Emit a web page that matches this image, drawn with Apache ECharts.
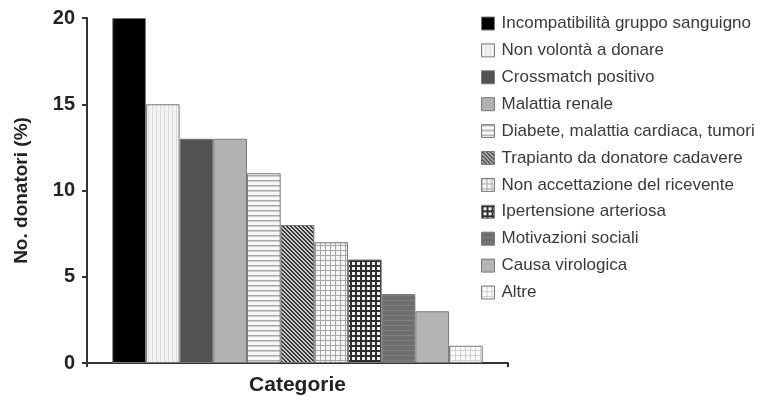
<!DOCTYPE html>
<html>
<head>
<meta charset="utf-8">
<script src="https://cdn.jsdelivr.net/npm/echarts@6/dist/echarts.min.js"></script>
<style>html,body{margin:0;padding:0;background:#fff}#c{width:771px;height:400px}</style>
</head>
<body>
<div id="c"></div>
<script>
const categories = ['Incompatibilità gruppo sanguigno','Non volontà a donare','Crossmatch positivo','Malattia renale','Diabete, malattia cardiaca, tumori','Trapianto da donatore cadavere','Non accettazione del ricevente','Ipertensione arteriosa','Motivazioni sociali','Causa virologica','Altre'];
const values = [20, 15, 13, 13, 11, 8, 7, 6, 4, 3, 1];
const yTicks = [0, 5, 10, 15, 20];

function pat(size, draw){
  const c = document.createElement('canvas');
  c.width = size; c.height = size;
  const g = c.getContext('2d');
  draw(g, size);
  return {image: c, repeat: 'repeat'};
}
function solid(col){ return col; }
const fills = [
  solid('#000000'),
  pat(4, (g,s)=>{ g.fillStyle='#f3f3f3'; g.fillRect(0,0,s,s); g.fillStyle='#dadada'; g.fillRect(0,0,1,s); }),
  solid('#525252'),
  solid('#b2b2b2'),
  pat(5, (g,s)=>{ g.fillStyle='#f8f8f8'; g.fillRect(0,0,s,s); g.fillStyle='#a8a8a8'; g.fillRect(0,0,s,1.5); }),
  pat(4, (g,s)=>{ g.fillStyle='#c8c8c8'; g.fillRect(0,0,s,s); g.fillStyle='#3a3a3a'; for(let i=0;i<s;i++){ g.fillRect(i,i,1,1); g.fillRect((i+1)%s,i,1,1);} }),
  pat(5, (g,s)=>{ g.fillStyle='#f4f4f4'; g.fillRect(0,0,s,s); g.fillStyle='#a6a6a6'; g.fillRect(0,0,s,1); g.fillRect(0,0,1,s); }),
  pat(5, (g,s)=>{ g.fillStyle='#f0f0f0'; g.fillRect(0,0,s,s); g.fillStyle='#2e2e2e'; g.fillRect(0,0,s,2); g.fillRect(0,0,2,s); }),
  pat(5, (g,s)=>{ g.fillStyle='#6e6e6e'; g.fillRect(0,0,s,s); g.fillStyle='#7e7e7e'; g.fillRect(0,0,s,1); }),
  solid('#b4b4b4'),
  pat(5, (g,s)=>{ g.fillStyle='#fafafa'; g.fillRect(0,0,s,s); g.fillStyle='#d0d0d0'; g.fillRect(0,0,s,1); g.fillRect(0,0,1,s); })
];

const chart = echarts.init(document.getElementById('c'), null, {renderer:'canvas'});
const series = categories.map((name, i) => ({
  name: name,
  type: 'bar',
  data: [values[i]],
  barGap: '0%',
  barCategoryGap: '12%',
  itemStyle: { color: fills[i], borderColor: '#7a7a7a', borderWidth: 1 },
  emphasis: { disabled: true },
  animation: false
}));

chart.setOption({
  animation: false,
  grid: { left: 87, right: 263, top: 18, bottom: 37, containLabel: false, outerBoundsMode: 'none' },
  legend: {
    orient: 'vertical',
    left: 476,
    top: 10,
    itemWidth: 13,
    itemHeight: 13,
    itemGap: 9.9,
    icon: 'rect',
    data: categories,
    itemStyle: { borderColor: '#7a7a7a', borderWidth: 1 },
    textStyle: { fontFamily: 'Liberation Sans, Arial, sans-serif', fontSize: 17, color: '#3a3a3a', padding: [0,0,0,2] }
  },
  xAxis: {
    type: 'category',
    data: [''],
    name: 'Categorie',
    nameLocation: 'middle',
    nameGap: 12,
    nameTextStyle: { fontFamily: 'Liberation Sans, Arial, sans-serif', fontWeight: 'bold', fontSize: 21, color: '#222' },
    axisLine: { lineStyle: { color: '#333', width: 2 } },
    axisTick: { show: true, length: 4, lineStyle: { color: '#333', width: 2 } },
    axisLabel: { show: false }
  },
  yAxis: {
    type: 'value',
    min: yTicks[0],
    max: yTicks[yTicks.length - 1],
    interval: 5,
    name: 'No. donatori (%)',
    nameLocation: 'middle',
    nameGap: 56,
    nameTextStyle: { fontFamily: 'Liberation Sans, Arial, sans-serif', fontWeight: 'bold', fontSize: 19, color: '#222' },
    axisLine: { show: true, lineStyle: { color: '#333', width: 2 } },
    axisTick: { show: true, length: 5, lineStyle: { color: '#333', width: 2 } },
    axisLabel: { fontFamily: 'Liberation Sans, Arial, sans-serif', fontWeight: 'bold', fontSize: 20, color: '#222', margin: 12 },
    splitLine: { show: false }
  },
  series: series
});
</script>
</body>
</html>
